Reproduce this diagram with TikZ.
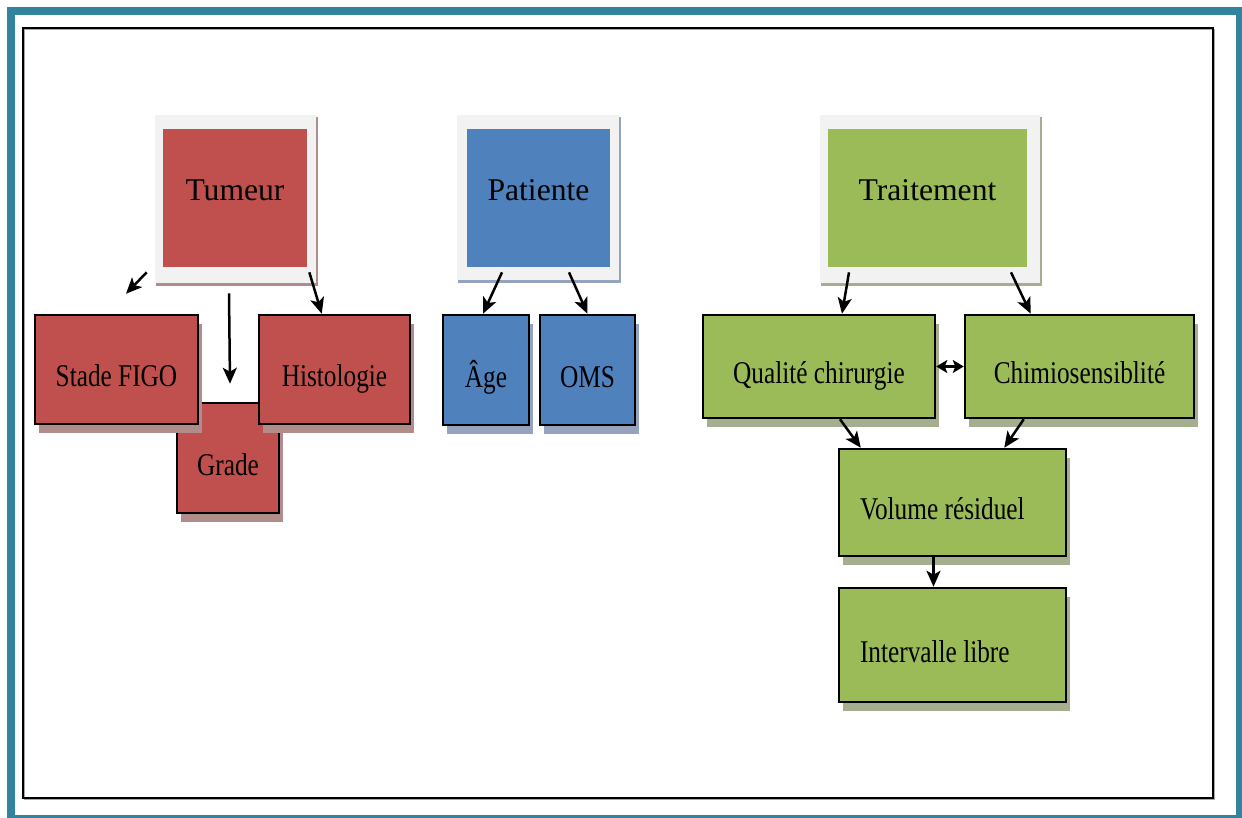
\documentclass[tikz,border=0pt]{standalone}
\usepackage{fontspec}
\setmainfont{Liberation Serif}
\newfontfamily\narrowserif[FakeStretch=0.8]{Liberation Serif}
\definecolor{tumred}{RGB}{192,80,77}
\definecolor{patblue}{RGB}{79,129,189}
\definecolor{trtgreen}{RGB}{155,187,89}
\definecolor{frameteal}{RGB}{49,132,155}
\definecolor{halogray}{RGB}{242,242,242}
\definecolor{tumshade}{RGB}{176,140,138}
\definecolor{patshade}{RGB}{150,163,190}
\definecolor{trtshade}{RGB}{165,174,142}
\usetikzlibrary{arrows.meta, positioning, calc, shadows, backgrounds}

\begin{document}
\begin{tikzpicture}[x=0.02cm, y=-0.02cm,
  size/.style 2 args={minimum width=#1*0.02cm, minimum height=#2*0.02cm},
  headbox/.style={fill=#1, inner sep=0pt, font=\fontsize{18}{20}\selectfont,
    text height=0.4cm, text depth=0.3cm},
  subbox/.style 2 args={fill=#1, draw=black, line width=0.05cm, inner sep=0pt,
    font=\narrowserif\fontsize{18}{20}\selectfont, text height=0.7cm, text depth=0pt,
    drop shadow={shadow xshift=0.08cm, shadow yshift=-0.17cm, fill=#2, opacity=1}},
  halo/.style={fill=halogray, drop shadow={shadow xshift=0.03cm, shadow yshift=-0.05cm, fill=#1, opacity=1}},
  arr/.style={line width=0.05cm, -{Stealth[length=0.32cm, width=0.28cm, inset=0.08cm]}},
  dblarr/.style={line width=0.05cm, {Stealth[length=0.22cm, width=0.26cm, inset=0.05cm]}-{Stealth[length=0.22cm, width=0.26cm, inset=0.05cm]}}]

  \useasboundingbox (0,0) rectangle (1242,818);

  % frames
  \draw[frameteal, line width=0.16cm] (11,11) rectangle (1240,819);
  \draw[black!35, line width=0.03cm] (24.5,29.5) rectangle (1214.5,799.5);
  \draw[line width=0.04cm] (23,28) rectangle (1213,798);

  % Tumeur group
  \node[headbox=tumred, size={144}{138}] (tum) at (235,198) {Tumeur};
  \node[subbox={tumred}{tumshade}, size={102}{110}] (grade) at (228,458) {Grade};
  \node[subbox={tumred}{tumshade}, size={163}{109}] (stade) at (116.5,369.5) {Stade FIGO};
  \node[subbox={tumred}{tumshade}, size={151}{109}] (histo) at (334.5,369.5) {Histologie};
  \draw[arr] ($(tum.south west)+(-16,5)$) -- ($(stade.north)+(9.5,-20)$);
  \draw[arr] ($(tum.south)+(-6,26)$) -- ($(grade.north)+(2,-18)$);
  \draw[arr] ($(tum.south east)+(2,5)$) -- ($(histo.north west)+(64,0)$);

  % Patiente group
  \node[headbox=patblue, size={143}{138}] (pat) at (538.5,198) {Patiente};
  \node[subbox={patblue}{patshade}, size={86}{110}] (age) at (486,370) {Âge};
  \node[subbox={patblue}{patshade}, size={95}{110}] (oms) at (587.5,370) {OMS};
  \draw[arr] ($(pat.south)+(-36.5,5)$) -- ($(age.north)+(-3,0)$);
  \draw[arr] ($(pat.south)+(30.5,5)$) -- (oms.north);

  % Traitement group
  \node[headbox=trtgreen, size={199}{138}] (trt) at (927.5,198) {Traitement};
  \node[subbox={trtgreen}{trtshade}, size={232}{103}] (qual) at (819,366.5) {Qualité chirurgie};
  \node[subbox={trtgreen}{trtshade}, size={229}{103}] (chimio) at (1079.5,366.5) {Chimiosensiblité};
  \node[subbox={trtgreen}{trtshade}, size={227}{107}, text width=3.7cm, align=flush left] (vol) at (952.5,502.5) {Volume résiduel};
  \node[subbox={trtgreen}{trtshade}, size={227}{114}, text width=3.7cm, align=flush left] (int) at (952.5,645) {Intervalle libre};
  \draw[arr] ($(trt.south)+(-78.5,5)$) -- ($(qual.north)+(23,0)$);
  \draw[arr] ($(trt.south)+(83.5,5)$) -- ($(chimio.north west)+(67,0)$);
  \draw[dblarr] (qual.east) -- (chimio.west);
  \draw[arr] ($(qual.south)+(21,0)$) -- ($(vol.north west)+(23,0)$);
  \draw[arr] ($(chimio.south west)+(60,0)$) -- ($(vol.north east)+(-63,0)$);
  \draw[arr] ($(vol.south)+(-19,0)$) -- ($(int.north)+(-19,0)$);

  % halos behind the head boxes
  \begin{scope}[on background layer]
    \path[halo=tumshade] ($(tum.north west)+(-8,-14)$) rectangle ($(tum.south east)+(9,16)$);
    \path[halo=patshade] ($(pat.north west)+(-10,-14)$) rectangle ($(pat.south east)+(9,13)$);
    \path[halo=trtshade] ($(trt.north west)+(-8,-14)$) rectangle ($(trt.south east)+(13,16)$);
  \end{scope}

\end{tikzpicture}
\end{document}
